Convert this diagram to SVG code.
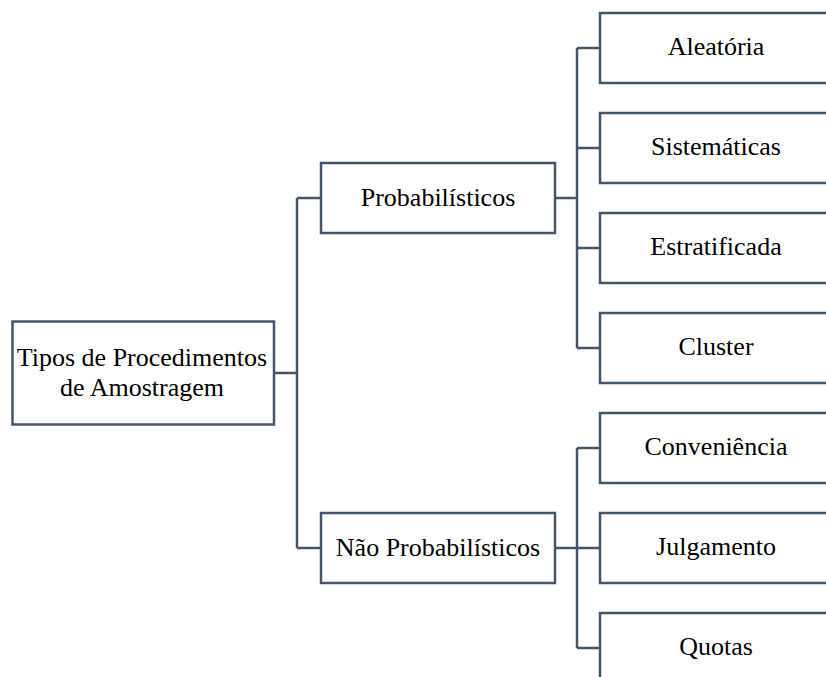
<svg xmlns="http://www.w3.org/2000/svg" width="826" height="677" viewBox="0 0 826 677">
  <style>
    .box { fill: #ffffff; stroke: #44546a; stroke-width: 2.5; }
    .link { fill: none; stroke: #44546a; stroke-width: 2.5; stroke-linejoin: miter; }
    .label { font-family: "Liberation Serif", "Times New Roman", serif; font-size: 26px; fill: #000000; text-anchor: middle; }
  </style>
  <rect width="826" height="677" fill="#ffffff"/>

  <!-- connectors -->
  <g id="connectors">
    <!-- root to second level -->
    <path class="link" d="M274,373 H297 M297,198 V548 M297,198 H321 M297,548 H321"/>
    <!-- Probabilísticos to its children -->
    <path class="link" d="M555,198 H577 M577,48 V348 M577,48 H600 M577,148 H600 M577,248 H600 M577,348 H600"/>
    <!-- Não Probabilísticos to its children -->
    <path class="link" d="M555,548 H577 M577,448 V648 M577,448 H600 M577,548 H600 M577,648 H600"/>
  </g>

  <!-- root -->
  <g id="root">
    <rect class="box" x="12.5" y="321.5" width="261.5" height="103"/>
    <text class="label" x="142" y="366">Tipos de Procedimentos</text>
    <text class="label" x="142" y="396">de Amostragem</text>
  </g>

  <!-- second level -->
  <g id="probabilisticos">
    <rect class="box" x="321" y="163" width="234" height="70"/>
    <text class="label" x="438" y="206">Probabilísticos</text>
  </g>
  <g id="nao-probabilisticos">
    <rect class="box" x="321" y="513" width="234" height="70"/>
    <text class="label" x="438" y="556">Não Probabilísticos</text>
  </g>

  <!-- leaves -->
  <g id="aleatoria">
    <rect class="box" x="600" y="13" width="232" height="70"/>
    <text class="label" x="716" y="55">Aleatória</text>
  </g>
  <g id="sistematicas">
    <rect class="box" x="600" y="113" width="232" height="70"/>
    <text class="label" x="716" y="155">Sistemáticas</text>
  </g>
  <g id="estratificada">
    <rect class="box" x="600" y="213" width="232" height="70"/>
    <text class="label" x="716" y="255">Estratificada</text>
  </g>
  <g id="cluster">
    <rect class="box" x="600" y="313" width="232" height="70"/>
    <text class="label" x="716" y="355">Cluster</text>
  </g>
  <g id="conveniencia">
    <rect class="box" x="600" y="413" width="232" height="70"/>
    <text class="label" x="716" y="455">Conveniência</text>
  </g>
  <g id="julgamento">
    <rect class="box" x="600" y="513" width="232" height="70"/>
    <text class="label" x="716" y="555">Julgamento</text>
  </g>
  <g id="quotas">
    <rect class="box" x="600" y="613" width="232" height="70"/>
    <text class="label" x="716" y="655">Quotas</text>
  </g>
</svg>
